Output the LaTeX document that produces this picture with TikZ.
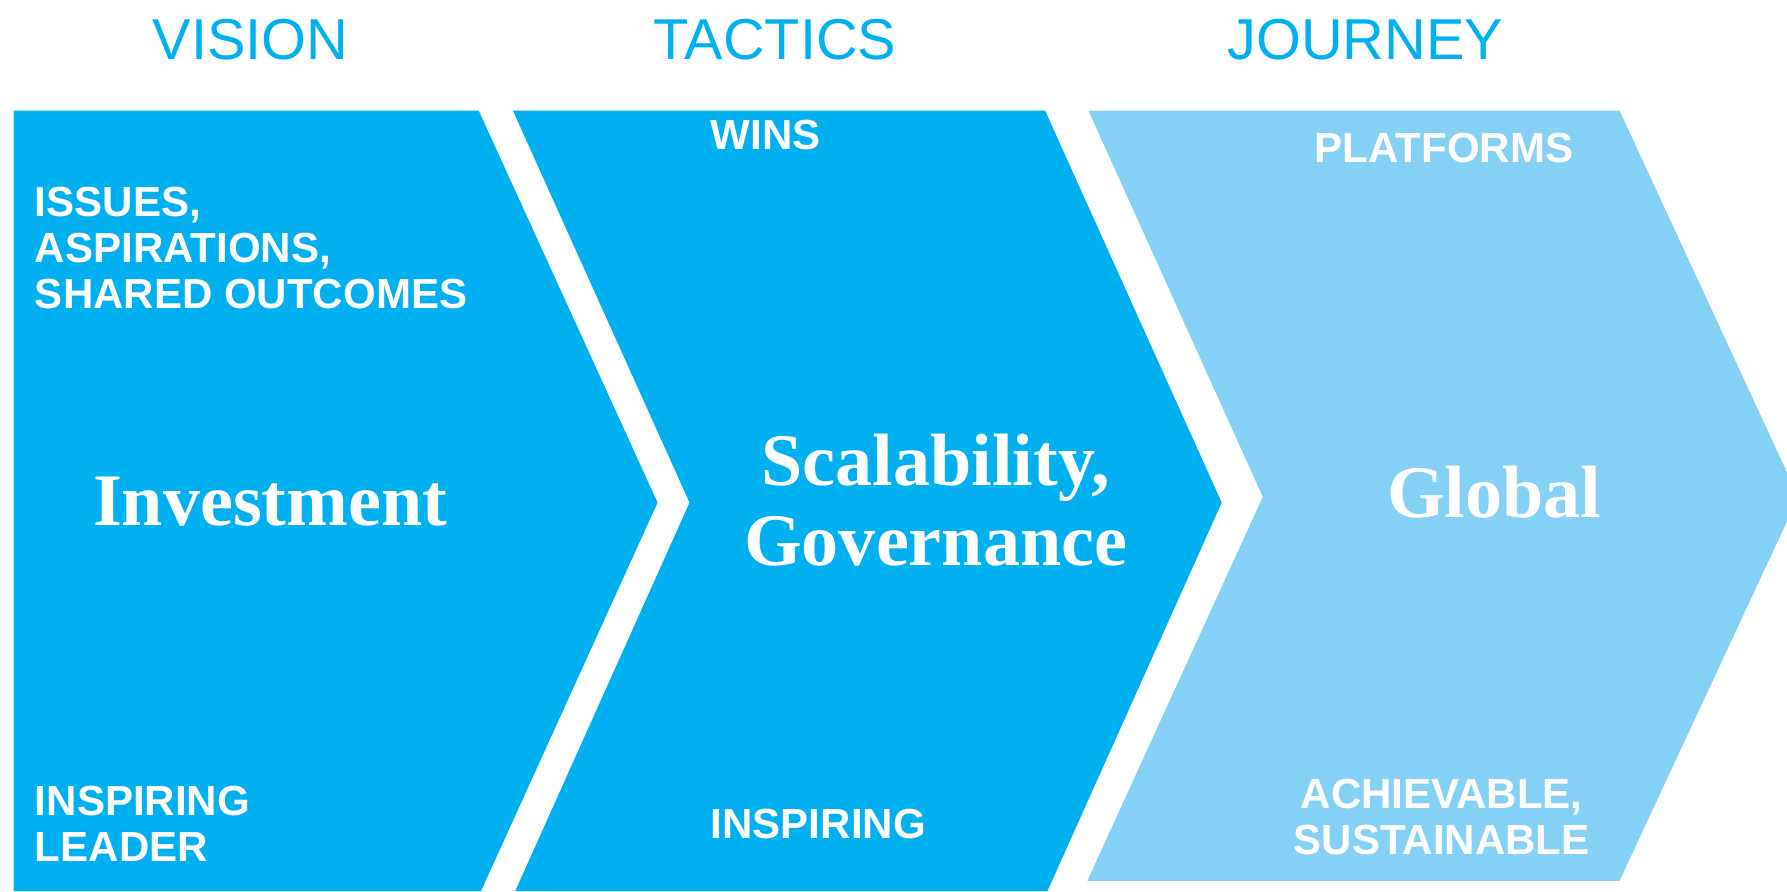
\documentclass[tikz,border=0pt]{standalone}
\usepackage{fontspec}
\setmainfont{Liberation Sans}
\newfontfamily\bigserif{Liberation Serif}
\usepackage{xcolor}
\usepackage{tikz}
\usetikzlibrary{positioning,calc}
\definecolor{chevblue}{RGB}{0,176,240}
\definecolor{chevpale}{RGB}{133,209,245}

\begin{document}
\begin{tikzpicture}[
					% Mũi tên đậm
					chevdark/.style={fill=chevblue, draw=none},
					% Mũi tên nhạt
					chevlight/.style={fill=chevpale, draw=none},
					% Tiêu đề cột
					coltitle/.style={
						font=\fontsize{14.4}{16}\selectfont\color{chevblue},
						anchor=base, inner sep=0pt
					},
					% Nhãn chữ trắng đậm
					tag/.style={
						font=\fontsize{10.5}{11.5}\selectfont\bfseries\color{white},
						align=left, anchor=base west, inner sep=0pt
					},
					% Chữ lớn ở giữa
					bigword/.style={
						font=\bigserif\fontsize{18.5}{20}\selectfont\bfseries\color{white},
						align=center, anchor=base, inner sep=0pt
					}
					]
					
				\useasboundingbox (0,0) rectangle (15.68,7.82);
				\clip (0,0) rectangle (15.68,7.82);
					
					% --- 1. CÁC MŨI TÊN ---
					\fill[chevdark] (0.12,6.85) -- (4.20,6.85) -- (5.77,3.41) -- (4.22,0) -- (0.12,0) -- cycle;
					\fill[chevdark] (4.50,6.85) -- (9.17,6.85) -- (10.72,3.41) -- (9.19,0) -- (4.52,0) -- (6.05,3.41) -- cycle;
					\fill[chevlight] (9.55,6.85) -- (14.21,6.85) -- (15.78,3.46) -- (14.21,0.09) -- (9.54,0.09) -- (11.08,3.46) -- cycle;
					
					% --- 2. TIÊU ĐỀ ---
					\node[coltitle] (vision) at (2.20,7.30) {VISION};
					\node[coltitle] (tactics) at (6.80,7.30) {TACTICS};
					\node[coltitle] (journey) at (11.98,7.30) {JOURNEY};
					
					% --- 3. NHÃN (mốc = dòng cuối) ---
					\node[tag] (issues) at (0.30,5.11) {ISSUES,\\ASPIRATIONS,\\SHARED OUTCOMES};
					\node[tag] (leader) at (0.30,0.26) {INSPIRING\\LEADER};
					\node[tag] (wins) at (6.23,6.51) {WINS};
					\node[tag] (inspiring) at (6.23,0.46) {INSPIRING};
					\node[tag] (platforms) at (11.53,6.39) {PLATFORMS};
					\node[tag, align=center, anchor=base] (achievable) at (12.65,0.32) {ACHIEVABLE,\\SUSTAINABLE};
					
					% --- 4. CHỮ LỚN ---
					\node[bigword] (investment) at (2.37,3.21) {Investment};
					\node[bigword] (scalability) at (8.21,2.86) {Scalability,\\Governance};
					\node[bigword] (global) at (13.11,3.28) {Global};
				\end{tikzpicture}
\end{document}
